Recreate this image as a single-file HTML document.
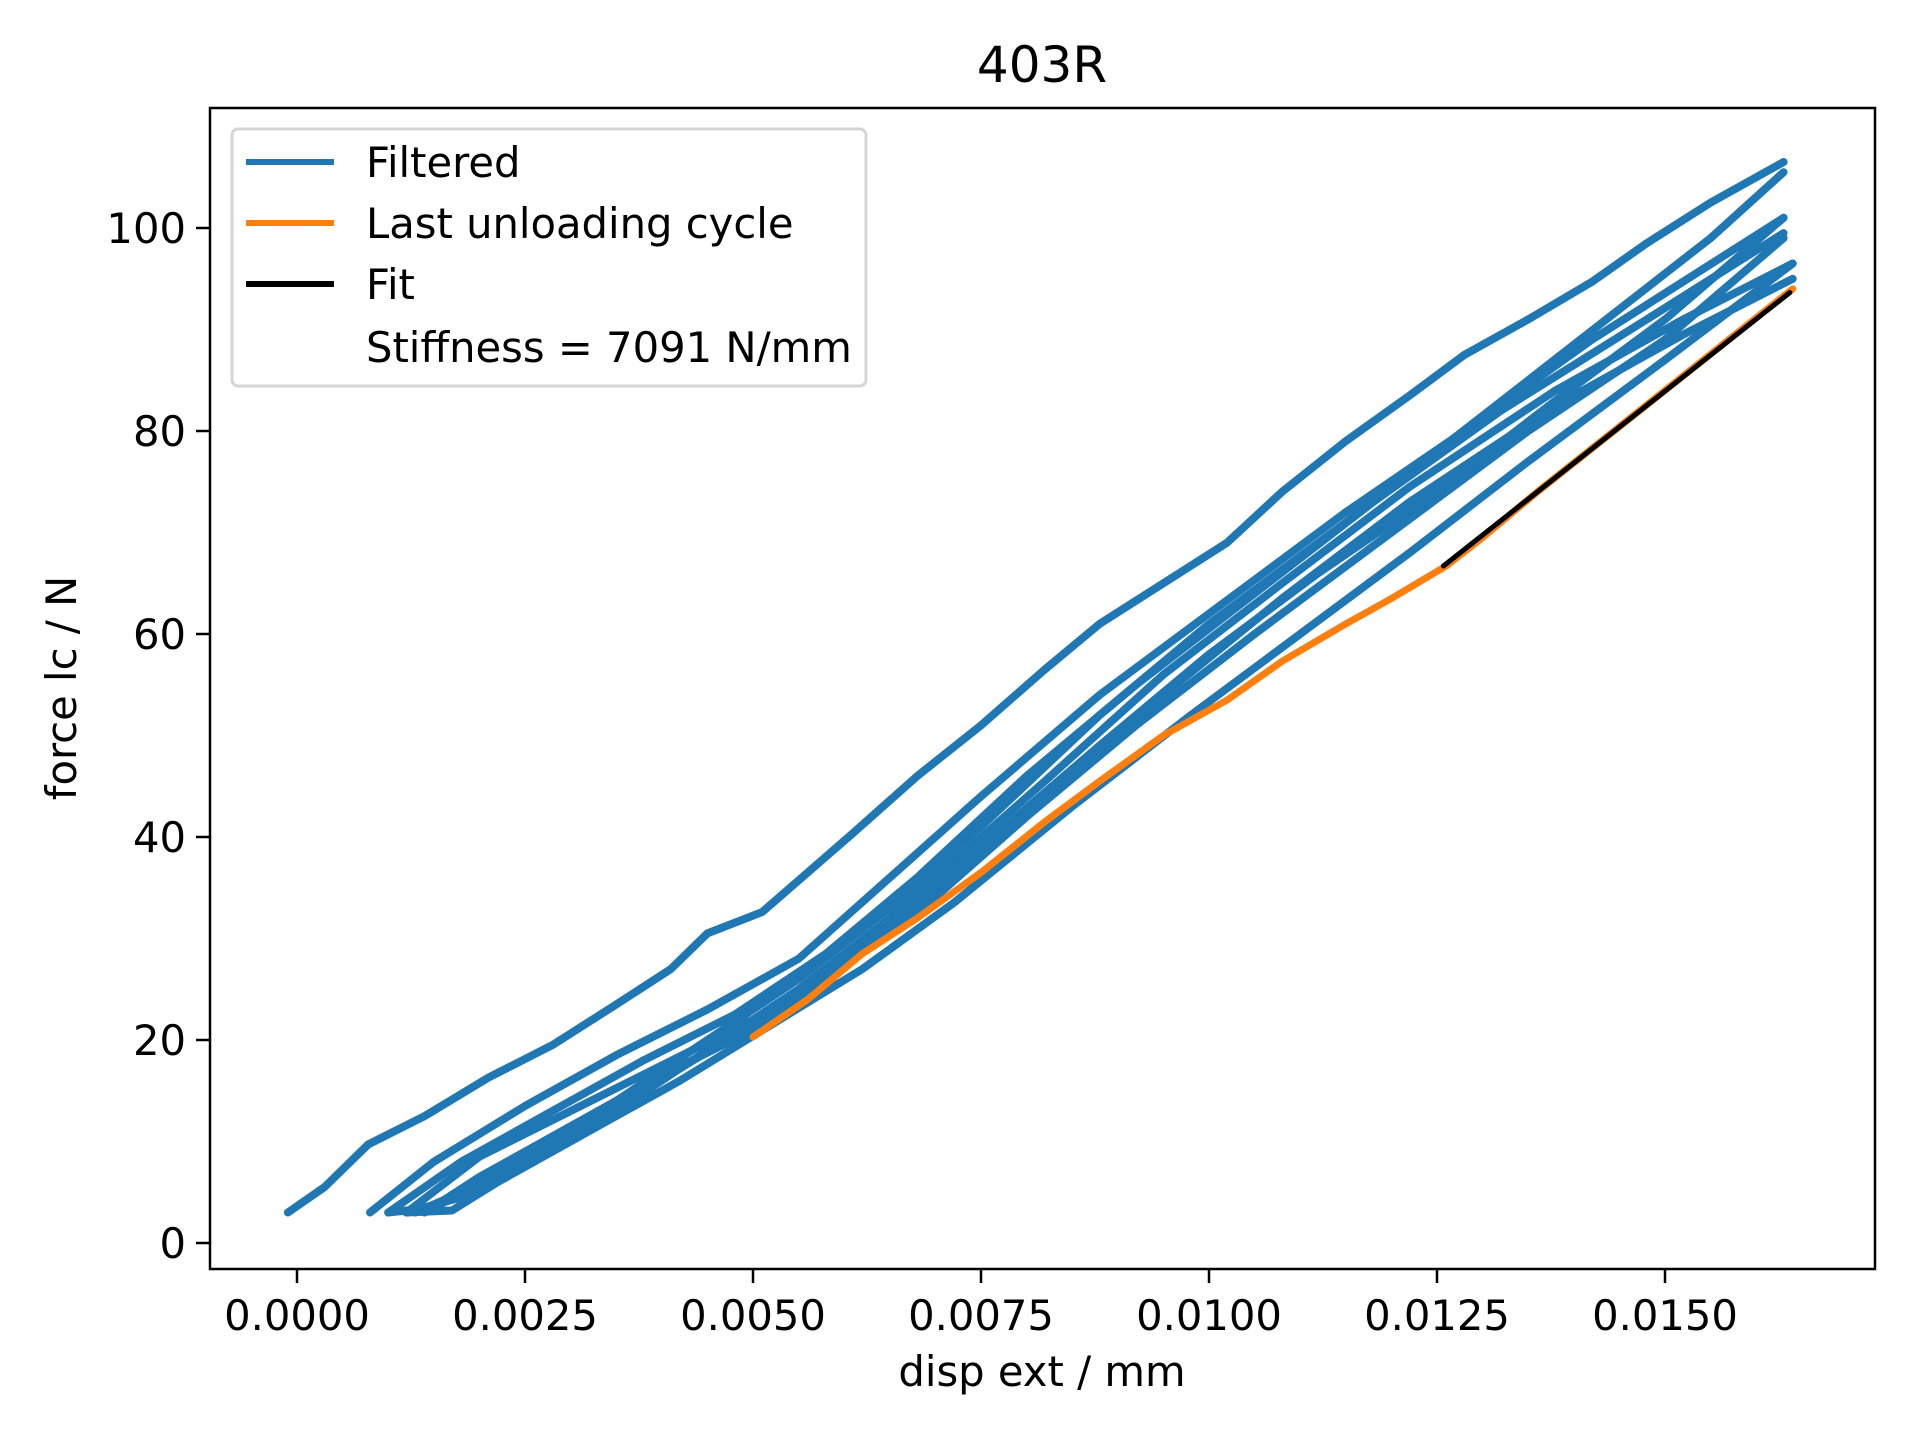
<!DOCTYPE html>
<html><head><meta charset="utf-8"><style>
html,body{margin:0;padding:0;background:#fff;}
svg{display:block;font-family:"DejaVu Sans","Liberation Sans",sans-serif;}
</style></head><body>
<svg id="chart" width="1920" height="1440" viewBox="0 0 1920 1440" xmlns="http://www.w3.org/2000/svg">
<rect width="1920" height="1440" fill="#fff"/>
<text x="1042" y="82" font-size="50" text-anchor="middle">403R</text>
<g id="plot"></g>
<g id="axes"></g>
<text x="1042" y="1386" font-size="41.7" text-anchor="middle">disp ext / mm</text>
<text transform="translate(76,688) rotate(-90)" font-size="41.7" text-anchor="middle">force lc / N</text>
<g>
<rect x="232" y="129" width="634" height="257" rx="6" fill="#fff" fill-opacity="0.8" stroke="#d5d5d5" stroke-width="3"/>
<line x1="246" y1="162" x2="334" y2="162" stroke="#1f77b4" stroke-width="6"/>
<text x="366" y="177" font-size="41.7">Filtered</text>
<line x1="246" y1="223" x2="334" y2="223" stroke="#ff7f0e" stroke-width="6"/>
<text x="366" y="238" font-size="41.7">Last unloading cycle</text>
<line x1="246" y1="284" x2="334" y2="284" stroke="#000" stroke-width="6"/>
<text x="366" y="299" font-size="41.7">Fit</text>
<text x="366" y="362" font-size="41.7">Stiffness = 7091 N/mm</text>
</g>
</svg>
<script>
const xTicks = [0, 0.0025, 0.005, 0.0075, 0.01, 0.0125, 0.015];
const xTickLabels = ["0.0000","0.0025","0.0050","0.0075","0.0100","0.0125","0.0150"];
const yTicks = [0, 20, 40, 60, 80, 100];
const yTickLabels = ["0","20","40","60","80","100"];
const load1X = [-0.0001,0.0003,0.00078,0.0014,0.0021,0.0028,0.0035,0.0041,0.0045,0.0051,0.0056,0.0061,0.0068,0.0075,0.0082,0.0088,0.0095,0.0102,0.0108,0.0115,0.0122,0.0128,0.0135,0.0142,0.0148,0.0155,0.0163];
const load1Y = [3,5.5,9.7,12.5,16.3,19.5,23.5,27,30.5,32.6,36.5,40.4,46,51,56.5,61,65,69,74,79,83.5,87.5,91,94.7,98.5,102.5,106.5];
const unload1X = [0.0163,0.0155,0.0145,0.0135,0.0125,0.0115,0.0100,0.0088,0.0075,0.0065,0.0055,0.0045,0.0035,0.0025,0.0018,0.0012];
const unload1Y = [105.5,99,92,85,78,71,61,52,41,33,26,20,14,8.5,4.5,3];
const load2X = [0.0008,0.0015,0.0025,0.0035,0.0045,0.0055,0.0065,0.0075,0.0088,0.0100,0.0115,0.0128,0.0142,0.0163];
const load2Y = [3,8,13.5,18.5,23,28,36,44,54,62,72,80,89,101];
const unload2X = [0.0163,0.0150,0.0138,0.0125,0.0112,0.0100,0.0088,0.0075,0.0065,0.0055,0.0045,0.0035,0.0025,0.0015,0.0010];
const unload2Y = [101,91,83,74,66,58,49,39,32,25,19,13,8,3.5,3];
const load3X = [0.0010,0.0018,0.0028,0.0038,0.0048,0.0058,0.0068,0.0080,0.0092,0.0105,0.0118,0.0132,0.0148,0.0163];
const load3Y = [3,8,13,18,22.5,28.5,36,46,55,64,73,82,91,99.5];
const unload3X = [0.0163,0.0150,0.0135,0.0120,0.0105,0.0092,0.0080,0.0068,0.0058,0.0048,0.0038,0.0028,0.0018,0.0013];
const unload3Y = [99,89,80,70,60,51,42,32.5,26,20.5,15,10,5,3];
const load4X = [0.0012,0.0020,0.0030,0.0040,0.0050,0.0060,0.0070,0.0082,0.0095,0.0108,0.0122,0.0138,0.0152,0.0164];
const load4Y = [3,8.5,13,17.5,22,28,36,45.5,56,65,74.5,84,91,96.5];
const unload4X = [0.0164,0.0150,0.0135,0.0122,0.0110,0.0098,0.0085,0.0072,0.0062,0.0052,0.0042,0.0032,0.0022,0.0017,0.0012];
const unload4Y = [96.5,87,77,68,60,52,43,33.5,27,21.5,16,11,6,3.2,3];
const load5X = [0.0014,0.0020,0.0030,0.0040,0.0050,0.0060,0.0070,0.0082,0.0095,0.0108,0.0122,0.0138,0.0152,0.0164];
const load5Y = [3,6.5,11.5,16.5,21,27.5,35,44,54,63.5,73,82.5,89.5,95];
const unloadLastX = [0.0164,0.0157,0.0150,0.0143,0.0136,0.0130,0.0126,0.0120,0.0115,0.0108,0.0102,0.0095,0.0088,0.0082,0.0075,0.0068,0.0062,0.0056,0.0050];
const unloadLastY = [94,89,84,79,74,69.5,66.7,63.5,61,57.3,53.5,50,45.5,41.5,36.5,32,28.5,24,20.3];
const fitX = [0.01257, 0.01637];
const stiffness = 7091;
const fitIntercept = 66.7;

const X0 = 297, XPER = 228 / 0.0025, Y0 = 1243, YPER = 10.15;
const AX = {l:210, r:1875, t:108, b:1269};
function sx(v){ return X0 + v * XPER; }
function sy(v){ return Y0 - v * YPER; }
const NS = "http://www.w3.org/2000/svg";
const plot = document.getElementById('plot');
const axes = document.getElementById('axes');

function poly(xs, ys, color, w, name){
  const p = document.createElementNS(NS, 'polyline');
  p.setAttribute('points', xs.map((x,i)=>sx(x).toFixed(1)+','+sy(ys[i]).toFixed(1)).join(' '));
  p.setAttribute('fill','none');
  p.setAttribute('stroke', color);
  p.setAttribute('stroke-width', w);
  p.setAttribute('stroke-linejoin','round');
  p.setAttribute('stroke-linecap','round');
  
  
  plot.appendChild(p);
}
const blue = '#1f77b4';
const filtered = [[load1X,load1Y],[unload1X,unload1Y],[load2X,load2Y],[unload2X,unload2Y],[load3X,load3Y],[unload3X,unload3Y],[load4X,load4Y],[unload4X,unload4Y],[load5X,load5Y]];
filtered.forEach(function(s, i){ poly(s[0], s[1], blue, 8, 'filtered-segment-' + (i+1)); });
poly(unloadLastX, unloadLastY, '#ff7f0e', 7, 'last-unloading-line');
const fitY = fitX.map(x => fitIntercept + stiffness * (x - fitX[0]));
poly(fitX, fitY, '#000', 5, 'fit-line');

const frame = document.createElementNS(NS,'rect');
frame.setAttribute('x', AX.l); frame.setAttribute('y', AX.t);
frame.setAttribute('width', AX.r-AX.l); frame.setAttribute('height', AX.b-AX.t);
frame.setAttribute('fill','none'); frame.setAttribute('stroke','#000'); frame.setAttribute('stroke-width','2.5');


axes.appendChild(frame);

xTicks.forEach(function(v,i){
  const x = sx(v);
  const l = document.createElementNS(NS,'line');
  l.setAttribute('x1',x); l.setAttribute('x2',x); l.setAttribute('y1',AX.b); l.setAttribute('y2',AX.b+14);
  l.setAttribute('stroke','#000'); l.setAttribute('stroke-width','2.5');
  
  
  axes.appendChild(l);
  const t = document.createElementNS(NS,'text');
  t.setAttribute('x',x); t.setAttribute('y',AX.b+61);
  t.setAttribute('font-size','41.7'); t.setAttribute('text-anchor','middle');
  t.textContent = xTickLabels[i];
  
  
  axes.appendChild(t);
});
yTicks.forEach(function(v,i){
  const y = sy(v);
  const l = document.createElementNS(NS,'line');
  l.setAttribute('x1',AX.l-14); l.setAttribute('x2',AX.l); l.setAttribute('y1',y); l.setAttribute('y2',y);
  l.setAttribute('stroke','#000'); l.setAttribute('stroke-width','2.5');
  
  
  axes.appendChild(l);
  const t = document.createElementNS(NS,'text');
  t.setAttribute('x',AX.l-24); t.setAttribute('y',y+15);
  t.setAttribute('font-size','41.7'); t.setAttribute('text-anchor','end');
  t.textContent = yTickLabels[i];
  
  
  axes.appendChild(t);
});
</script>
</body></html>
